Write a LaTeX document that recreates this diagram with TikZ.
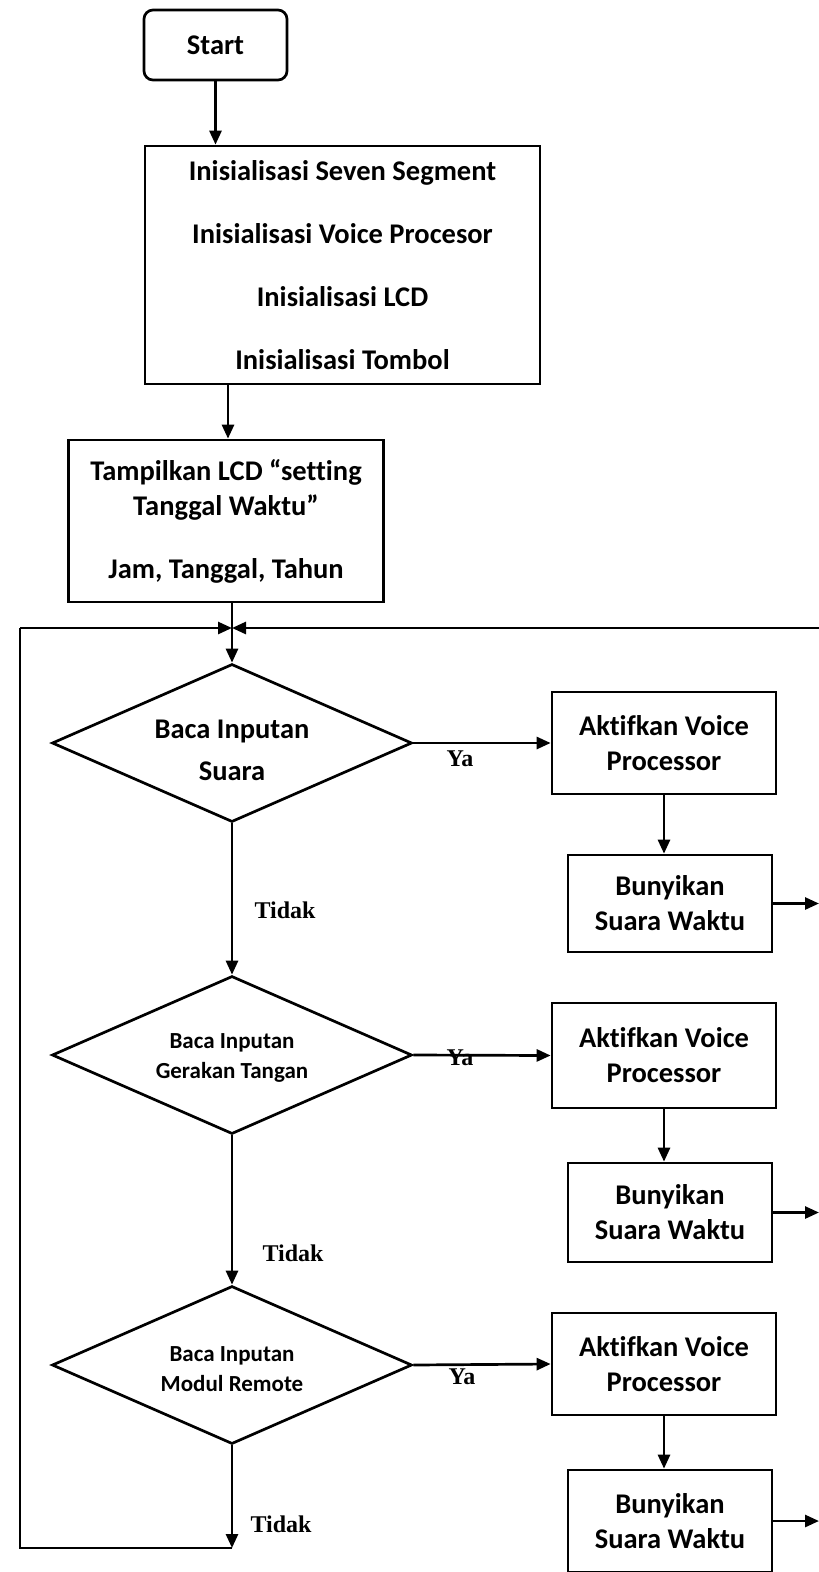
\documentclass[tikz,border=0pt]{standalone}
\usepackage{fontspec}
\setmainfont{Carlito}[Ligatures=NoCommon]
\newfontfamily\serifl{Liberation Serif}
\usetikzlibrary{arrows.meta,shapes.geometric}
\begin{document}
\begin{tikzpicture}[x=1pt,y=-1pt, line width=2.7pt,
 box/.style={draw, inner sep=0pt, align=center, font=\bfseries\fontsize{28.5}{35}\selectfont},
 dec/.style={draw, shape=diamond, shape aspect=2.28, minimum width=360pt, minimum height=158pt, inner sep=0pt},
 dtext/.style={align=center, inner sep=0pt},
 arr/.style={-{Triangle[length=14pt,width=12pt]}},
 lab/.style={font=\serifl\bfseries\fontsize{24}{28}\selectfont}]
\useasboundingbox (0,0) rectangle (819,1572);

\node[box, rounded corners=9pt, minimum width=143pt, minimum height=70pt] (start) at (215.5,45) {Start};
\node[box, minimum width=395pt, minimum height=238pt, font=\bfseries\fontsize{28.5}{63}\selectfont] (init) at (342.5,265) {Inisialisasi Seven Segment\\Inisialisasi Voice Procesor\\Inisialisasi LCD\\Inisialisasi Tombol};
\node[box, minimum width=315pt, minimum height=162pt] (tamp) at (226,521) {\rule{0pt}{8pt}Tampilkan LCD “setting\\Tanggal Waktu”\\[28pt]Jam, Tanggal, Tahun};

\node[dec] (d1) at (232,743) {};
\node[dtext, font=\bfseries\fontsize{28.5}{42}\selectfont] (d1t) at ([yshift=-7pt]d1.center) {Baca Inputan\\Suara};
\node[dec] (d2) at (232,1055) {};
\node[dtext, font=\bfseries\fontsize{23}{30}\selectfont] (d2t) at ([yshift=-3pt]d2.center) {Baca Inputan\\Gerakan Tangan};
\node[dec] (d3) at (232,1365) {};
\node[dtext, font=\bfseries\fontsize{23}{30}\selectfont] (d3t) at ([yshift=-4pt]d3.center) {Baca Inputan\\Modul Remote};

\node[box, minimum width=224pt, minimum height=102pt] (a1) at (664,743) {Aktifkan Voice\\Processor};
\node[box, minimum width=204pt, minimum height=97pt] (b1) at (670,903.5) {Bunyikan\\Suara Waktu};
\node[box, minimum width=224pt, minimum height=105pt] (a2) at (664,1055.5) {Aktifkan Voice\\Processor};
\node[box, minimum width=204pt, minimum height=99pt] (b2) at (670,1212.5) {Bunyikan\\Suara Waktu};
\node[box, minimum width=224pt, minimum height=102pt] (a3) at (664,1364) {Aktifkan Voice\\Processor};
\node[box, minimum width=204pt, minimum height=102pt] (b3) at (670,1521) {Bunyikan\\Suara Waktu};

\coordinate (m) at (232,628);
\coordinate (lc) at (20,628);
\coordinate (rc) at (819,628);
\coordinate (bl) at (20,1548);
\coordinate (bt) at (232,1548);
\coordinate (t1) at ([xshift=2pt]tamp.north);

\draw[arr] (start.south) -- (start.south |- init.north);
\draw[arr] (t1 |- init.south) -- (t1);
\draw (tamp.south -| m) -- (m);
\draw[arr] (m) -- (d1.north);
\draw[arr] (lc) -- (m);
\draw[arr] (rc) -- (m);

\draw[arr] (d1.east) -- (a1.west);
\draw[arr] (d2.east) -- (a2.west);
\draw[arr] (d3.east) -- (a3.west);
\node[lab] (y1) at (460,759) {Ya};
\node[lab] (y2) at (460,1058) {Ya};
\node[lab] (y3) at (462,1377) {Ya};

\draw[arr] (d1.south) -- (d2.north);
\draw[arr] (d2.south) -- (d3.north);
\draw[arr] (d3.south) -- (bt);
\draw (bt) -- (bl) -- (lc);
\node[lab] (n1) at (285,910) {Tidak};
\node[lab] (n2) at (293,1253) {Tidak};
\node[lab] (n3) at (281,1524) {Tidak};

\draw[arr] (a1.south) -- (a1.south |- b1.north);
\draw[arr] (a2.south) -- (a2.south |- b2.north);
\draw[arr] (a3.south) -- (a3.south |- b3.north);
\draw[arr] (b1.east) -- (b1.east -| rc);
\draw[arr] (b2.east) -- (b2.east -| rc);
\draw[arr] (b3.east) -- (b3.east -| rc);
\end{tikzpicture}
\end{document}
